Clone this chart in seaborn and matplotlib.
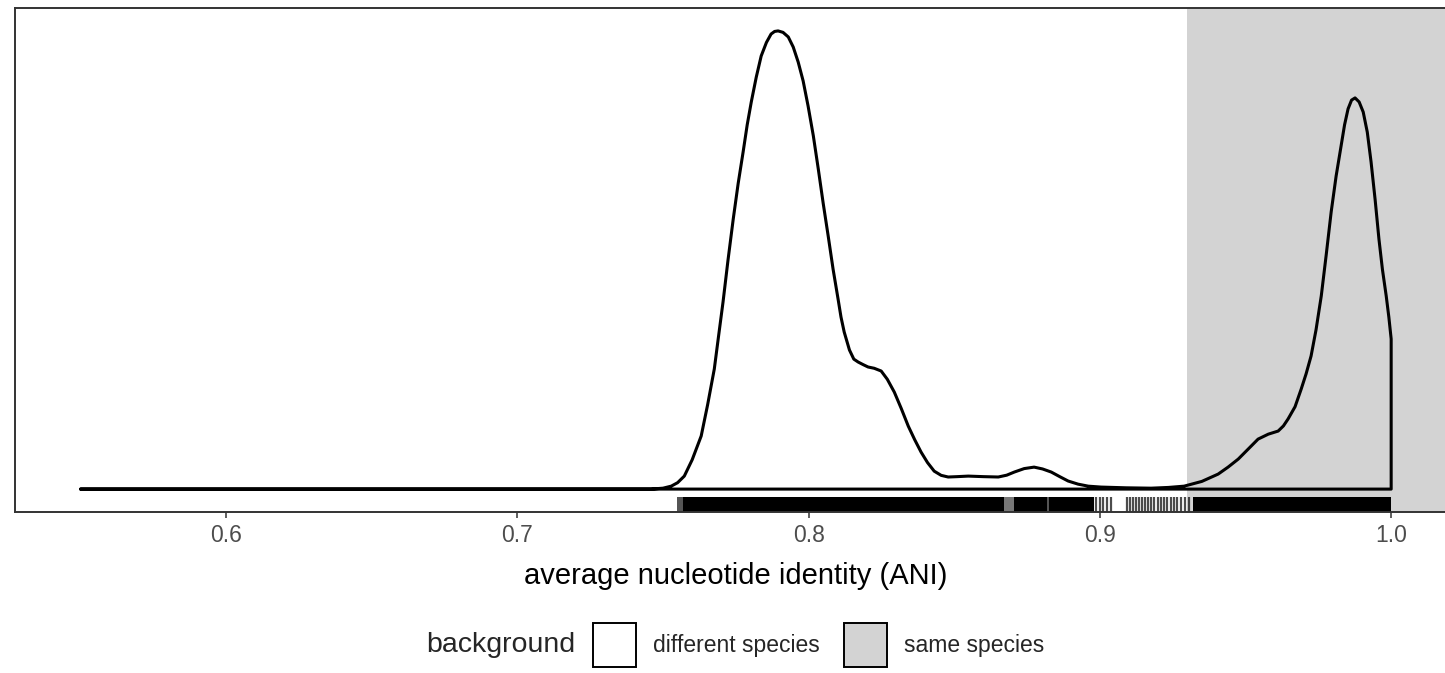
import numpy as np
import pandas as pd
import matplotlib
matplotlib.use("Agg")
import matplotlib.pyplot as plt
from matplotlib.patches import Patch
import seaborn as sns

# --- density curve of ANI values ---
ani_grid = [0.5500, 0.7459, 0.7500, 0.7528, 0.7550, 0.7573, 0.7600, 0.7631, 0.7653,
            0.7676, 0.7691, 0.7706, 0.7723, 0.7741, 0.7758, 0.7775, 0.7789, 0.7803,
            0.7820, 0.7837, 0.7855, 0.7871, 0.7883, 0.7895, 0.7912, 0.7930, 0.7947,
            0.7964, 0.7981, 0.7998, 0.8016, 0.8033, 0.8050, 0.8067, 0.8084, 0.8101,
            0.8111, 0.8122, 0.8140, 0.8155, 0.8170, 0.8187, 0.8204, 0.8225, 0.8249,
            0.8270, 0.8294, 0.8318, 0.8342, 0.8364, 0.8386, 0.8408, 0.8431, 0.8455,
            0.8479, 0.8510, 0.8548, 0.8600, 0.8651, 0.8680, 0.8706, 0.8740, 0.8774,
            0.8803, 0.8833, 0.8862, 0.8891, 0.8925, 0.8960, 0.9004, 0.9090, 0.9176,
            0.9235, 0.9289, 0.9350, 0.9406, 0.9440, 0.9475, 0.9510, 0.9543, 0.9578,
            0.9612, 0.9630, 0.9646, 0.9670, 0.9691, 0.9708, 0.9725, 0.9742, 0.9760,
            0.9777, 0.9794, 0.9811, 0.9828, 0.9840, 0.9852, 0.9864, 0.9876, 0.9890,
            0.9904, 0.9918, 0.9931, 0.9945, 0.9958, 0.9970, 0.9983, 0.9992, 1.0000]
density_vals = [0.00, 0.00, 0.05, 0.16, 0.35, 0.71, 1.60, 2.90, 4.60,
                6.56, 8.40, 10.22, 12.50, 14.75, 16.70, 18.42, 19.90, 21.15,
                22.50, 23.66, 24.40, 24.86, 25.00, 25.03, 24.95, 24.70, 24.15,
                23.33, 22.30, 20.93, 19.30, 17.49, 15.60, 13.83, 12.00, 10.38,
                9.40, 8.58, 7.60, 7.10, 6.94, 6.80, 6.67, 6.60, 6.45,
                6.00, 5.30, 4.40, 3.44, 2.70, 2.02, 1.45, 0.98, 0.75,
                0.66, 0.68, 0.71, 0.68, 0.66, 0.76, 0.93, 1.12, 1.20,
                1.10, 0.93, 0.68, 0.44, 0.27, 0.16, 0.11, 0.07, 0.05,
                0.09, 0.16, 0.42, 0.82, 1.20, 1.64, 2.20, 2.73, 3.00,
                3.17, 3.45, 3.83, 4.50, 5.46, 6.30, 7.27, 8.70, 10.55,
                12.80, 15.14, 17.10, 18.74, 19.90, 20.77, 21.25, 21.37, 21.15,
                20.60, 19.50, 17.87, 15.80, 13.66, 12.00, 10.55, 9.40, 8.20]

# --- rug: dense stretches (where ticks merge into a block) ---
rug_start = [0.7549, 0.7569, 0.8671, 0.8706, 0.8820, 0.8826, 0.9320]
rug_end = [0.7569, 0.8671, 0.8706, 0.8820, 0.8826, 0.8980, 1.0000]
rug_shade = ["#555555", "black", "#777777", "black", "#555555", "black", "black"]

# --- rug: individual ticks in the sparse stretch ---
rug_sparse = [0.8987, 0.9001, 0.9011, 0.9025, 0.9039,
              0.9094, 0.9104, 0.9114, 0.9124, 0.9135, 0.9145, 0.9155, 0.9166,
              0.9176, 0.9186, 0.9200, 0.9210, 0.9221, 0.9231, 0.9245, 0.9255,
              0.9265, 0.9279, 0.9293, 0.9306]

same_species_cut = 0.93
x_ticks = [0.6, 0.7, 0.8, 0.9, 1.0]
x_tick_labels = ["0.6", "0.7", "0.8", "0.9", "1.0"]
legend_labels = ["different species", "same species"]
legend_fills = ["white", "#D3D3D3"]

sns.set_theme(style="white")
plt.rcParams["font.family"] = ["Liberation Sans", "DejaVu Sans"]

fig = plt.figure(figsize=(14.45, 6.73), dpi=100)
ax = fig.add_axes([15 / 1445, 161 / 673, 1441.7 / 1445, 504 / 673])

x_lo = ani_grid[0] - 0.05 * (ani_grid[-1] - ani_grid[0])
x_hi = ani_grid[-1] + 0.05 * (ani_grid[-1] - ani_grid[0])
y_max = max(density_vals)
ax.set_xlim(x_lo, x_hi)
ax.set_ylim(-0.05 * y_max, 1.05 * y_max)

# background for "same species"
ax.axvspan(same_species_cut, x_hi, color=legend_fills[1], zorder=0, lw=0)

# closed density outline (like geom_density)
outline = pd.DataFrame({
    "ani": ani_grid + [ani_grid[-1], ani_grid[0]],
    "density": density_vals + [0.0, 0.0],
})
sns.lineplot(data=outline, x="ani", y="density", sort=False, estimator=None,
             color="black", linewidth=2.2, ax=ax, zorder=3)
ax.lines[-1].set_solid_joinstyle("round")

# rug
for s, e, c in zip(rug_start, rug_end, rug_shade):
    ax.axvspan(s, e, ymin=0, ymax=0.03, color=c, lw=0, zorder=2)
sns.rugplot(x=rug_sparse, height=0.03, color="black", alpha=0.7,
            linewidth=1.6, ax=ax, zorder=2)

# axes styling
for sp in ax.spines.values():
    sp.set_color("#333333")
    sp.set_linewidth(1.4)
ax.set_xticks(x_ticks)
ax.set_xticklabels(x_tick_labels)
ax.set_yticks([])
ax.set_ylabel("")
ax.tick_params(axis="x", bottom=True, length=4.5, width=1.1, color="#333333",
               labelcolor="#4D4D4D", labelsize=16.5, pad=4)
ax.set_xlabel("average nucleotide identity (ANI)", fontsize=21, color="black",
              labelpad=11)

# legend
handles = [Patch(facecolor=f, edgecolor="black", linewidth=1.4) for f in legend_fills]
fig.legend(handles, legend_labels, loc="center left",
           bbox_to_anchor=(593 / 1445, 28 / 673), ncol=2, frameon=False,
           fontsize=16.5, handlelength=1.88, handleheight=2.6,
           handletextpad=0.75, columnspacing=1.05, borderpad=0, borderaxespad=0)
fig.text(575 / 1445, 28 / 673, "background", ha="right", va="center", fontsize=20.5)

fig.savefig("out.png", dpi=100)
